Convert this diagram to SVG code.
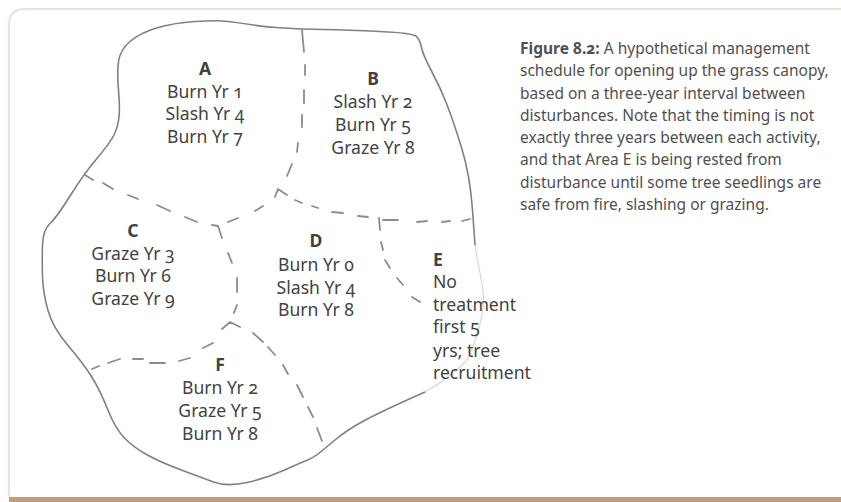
<svg xmlns="http://www.w3.org/2000/svg" width="841" height="502" viewBox="0 0 841 502">
<style>
text{font-family:"Noto Sans","Open Sans","Liberation Sans",sans-serif;fill:#424242;font-variant-numeric:oldstyle-nums}
.l{font-size:17.6px;text-anchor:middle}
.e{font-size:17.6px}
.c{font-size:15.5px;fill:#505050}
.b{font-weight:700}
.o{fill:none;stroke:#808080;stroke-width:1.6;stroke-linejoin:round;stroke-linecap:round}
.f{fill:none;stroke:#d8d8d8;stroke-width:1.2}
.d{fill:none;stroke:#8c8c8c;stroke-width:1.8;stroke-linecap:round;stroke-linejoin:round}
</style>
<rect width="841" height="502" fill="#fff"/>
<path d="M841 9H25Q9 9 9 25V497" fill="none" stroke="#e8d8cf" stroke-width="1.6"/>
<rect x="9" y="497" width="832" height="5" fill="#c49a78"/>
<g id="connectors">
<path class="o" d="M475 245L472.500 210Q470 175 461.500 147.500Q453 120 446.500 103.500Q440 87 431.500 71Q423 55 421.500 47.500Q420 40 416.500 36.500Q413 33 380 31.500Q347 30 324 29.500Q301 29 284 28Q267 27 253.500 25Q240 23 228.500 21.500Q217 20 195 21.500Q173 23 156.500 28Q140 33 130 41.500Q120 50 118.500 61.500Q117 73 118.500 90Q120 107 119 117Q118 127 114 135Q110 143 96.500 159Q83 175 70 196Q57 217 50 223.500Q43 230 42.500 245Q42 260 42.500 276.500Q43 293 48 310.500Q53 328 68 345.500Q83 363 91.500 376.500Q100 390 107.500 409Q115 428 124 437.500Q133 447 146.500 454.500Q160 462 180 469.500Q200 477 213.500 482Q227 487 247 482.500Q267 478 283.500 470.500Q300 463 306.500 460.500Q313 458 318 454Q323 450 335 440Q347 430 363.500 421Q380 412 425 392"/>
<path class="f" d="M475 245L483 290Q486 320 467 360Q450 378 425 392"/>
<path class="d" d="M302 30L304 52M305 65L305 75M304 90L304 103M302 115L302 127M298 143L297 152M292 164L287 176M275 197L278 189L287 195M295 200L302 203M312 206L318 208M332 212L343 213M358 216L368 217M383 220L398 220M417 222L427 221M442 222L450 221M462 221L470 219M379 218L380 230M381 242L383 250M385 260L390 268M397 278L403 285M412 297L420 302M85 175L93 180M103 183L113 189M128 195L138 199M157 205L170 211M185 217L197 222M212 225L218 226L222 238M228 222L238 218M255 211L263 206M228 253L232 263M237 278L237 292M237 305L234 313M222 329L230 322L240 327M253 333L263 342M268 347L275 355M283 365L288 374M297 385L303 397M308 407L313 417M317 428L322 441M92 369L99 366M108 363L120 359M133 359L143 359M150 363L165 363M179 361L190 358M203 348L213 343"/>
</g>
<g id="node-a"><text class="l b" x="205" y="75">A</text><text class="l" x="205" y="98">Burn Yr 1</text><text class="l" x="205" y="120">Slash Yr 4</text><text class="l" x="205" y="143">Burn Yr 7</text></g>
<g id="node-b"><text class="l b" x="373" y="85">B</text><text class="l" x="373" y="108">Slash Yr 2</text><text class="l" x="373" y="131">Burn Yr 5</text><text class="l" x="373" y="154">Graze Yr 8</text></g>
<g id="node-c"><text class="l b" x="133" y="237">C</text><text class="l" x="133" y="260">Graze Yr 3</text><text class="l" x="133" y="282">Burn Yr 6</text><text class="l" x="133" y="305">Graze Yr 9</text></g>
<g id="node-d"><text class="l b" x="316" y="247">D</text><text class="l" x="316" y="271">Burn Yr 0</text><text class="l" x="316" y="294">Slash Yr 4</text><text class="l" x="316" y="316">Burn Yr 8</text></g>
<g id="node-e"><text class="e b" x="433" y="266">E</text><text class="e" x="433" y="288">No</text><text class="e" x="433" y="311">treatment</text><text class="e" x="433" y="333">first 5</text><text class="e" x="433" y="357">yrs; tree</text><text class="e" x="433" y="379">recruitment</text></g>
<g id="node-f"><text class="l b" x="220" y="371">F</text><text class="l" x="220" y="394">Burn Yr 2</text><text class="l" x="220" y="417">Graze Yr 5</text><text class="l" x="220" y="440">Burn Yr 8</text></g>
<g id="caption">
<text class="c" x="520" y="54"><tspan class="b">Figure 8.2:</tspan> A hypothetical management</text>
<text class="c" x="520" y="76">schedule for opening up the grass canopy,</text>
<text class="c" x="520" y="99">based on a three-year interval between</text>
<text class="c" x="520" y="121">disturbances. Note that the timing is not</text>
<text class="c" x="520" y="143">exactly three years between each activity,</text>
<text class="c" x="520" y="165">and that Area E is being rested from</text>
<text class="c" x="520" y="188">disturbance until some tree seedlings are</text>
<text class="c" x="520" y="210">safe from fire, slashing or grazing.</text>
</g>
</svg>
